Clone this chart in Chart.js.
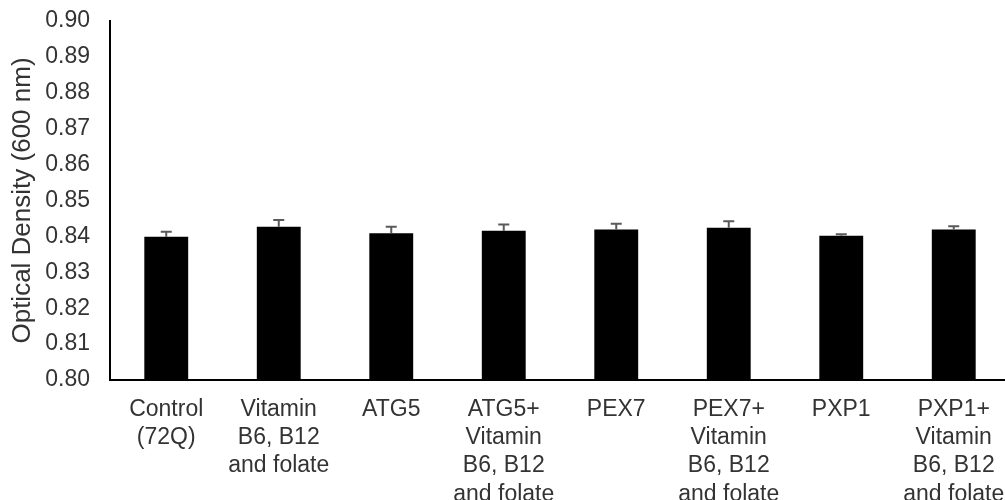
<!DOCTYPE html>
<html>
<head>
<meta charset="utf-8">
<script src="https://cdn.jsdelivr.net/npm/chart.js@4/dist/chart.umd.min.js"></script>
<style>
  html, body { margin: 0; padding: 0; background: #fff; overflow: hidden; }
  #wrap { width: 1010px; height: 500px; position: relative; }
</style>
</head>
<body>
<div id="wrap"><canvas id="myChart"></canvas></div>
<script>
// group labels, one line per array entry
const groups = [
  ['Control', '(72Q)'],
  ['Vitamin', 'B6, B12', 'and folate'],
  ['ATG5'],
  ['ATG5+', 'Vitamin', 'B6, B12', 'and folate'],
  ['PEX7'],
  ['PEX7+', 'Vitamin', 'B6, B12', 'and folate'],
  ['PXP1'],
  ['PXP1+', 'Vitamin', 'B6, B12', 'and folate'],
];

// OD600 means and their error (upper bar only)
const odMeans  = [0.8399, 0.8427, 0.8409, 0.8416, 0.8419, 0.8424, 0.8402, 0.8419];
const odErrors = [0.0014, 0.0019, 0.0018, 0.0017, 0.0016, 0.0018, 0.0004, 0.0009];

const yTicks = [0.80, 0.81, 0.82, 0.83, 0.84, 0.85, 0.86, 0.87, 0.88, 0.89, 0.90];

const FONT = "'Liberation Sans', Arial, sans-serif";
const TEXT = '#333333';

// draws the upper error whisker with a cap on each bar
const errorBars = {
  id: 'errorBars',
  afterDatasetsDraw(chart) {
    const ctx = chart.ctx;
    const y = chart.scales.y;
    const meta = chart.getDatasetMeta(0);
    ctx.save();
    ctx.strokeStyle = '#5a5a5a';
    ctx.lineWidth = 2;
    meta.data.forEach((bar, i) => {
      const top = y.getPixelForValue(odMeans[i] + odErrors[i]);
      ctx.beginPath();
      ctx.moveTo(bar.x, bar.y);
      ctx.lineTo(bar.x, top);
      ctx.moveTo(bar.x - 5.5, top);
      ctx.lineTo(bar.x + 5.5, top);
      ctx.stroke();
    });
    ctx.restore();
  }
};

const config = {
  type: 'bar',
  data: {
    labels: groups,
    datasets: [{
      data: odMeans,
      backgroundColor: '#000000',
      borderWidth: 0,
      barPercentage: 0.39,
      categoryPercentage: 1.0,
    }]
  },
  options: {
    responsive: true,
    maintainAspectRatio: false,
    animation: false,
    layout: { padding: { left: 0, right: 0, top: 21, bottom: 0 } },
    plugins: {
      legend: { display: false },
      tooltip: { enabled: false },
    },
    scales: {
      x: {
        grid: { display: false, drawTicks: false },
        border: { display: true, color: '#000000', width: 2 },
        ticks: {
          color: TEXT,
          padding: 16,
          maxRotation: 0,
          autoSkip: false,
          font: { family: FONT, size: 23, lineHeight: 1.22 },
        },
        afterFit: (scale) => {
          scale.height = 120;
          scale.paddingLeft = 0;
          scale.paddingRight = 0;
        },
      },
      y: {
        min: 0.80,
        max: 0.90,
        grid: { display: false, drawTicks: false },
        border: { display: true, color: '#000000', width: 2 },
        afterBuildTicks: (scale) => { scale.ticks = yTicks.map(v => ({ value: v })); },
        ticks: {
          color: TEXT,
          padding: 20,
          font: { family: FONT, size: 23 },
          callback: (v) => Number(v).toFixed(2),
        },
        title: {
          display: true,
          text: 'Optical Density (600 nm)',
          color: TEXT,
          padding: { top: 7, bottom: 0 },
          font: { family: FONT, size: 26 },
        },
        afterFit: (scale) => {
          scale.width = 110;
          scale.paddingTop = 0;
          scale.paddingBottom = 0;
        },
      }
    }
  },
  plugins: [errorBars]
};

const myChart = new Chart(document.getElementById('myChart').getContext('2d'), config);
</script>
</body>
</html>
